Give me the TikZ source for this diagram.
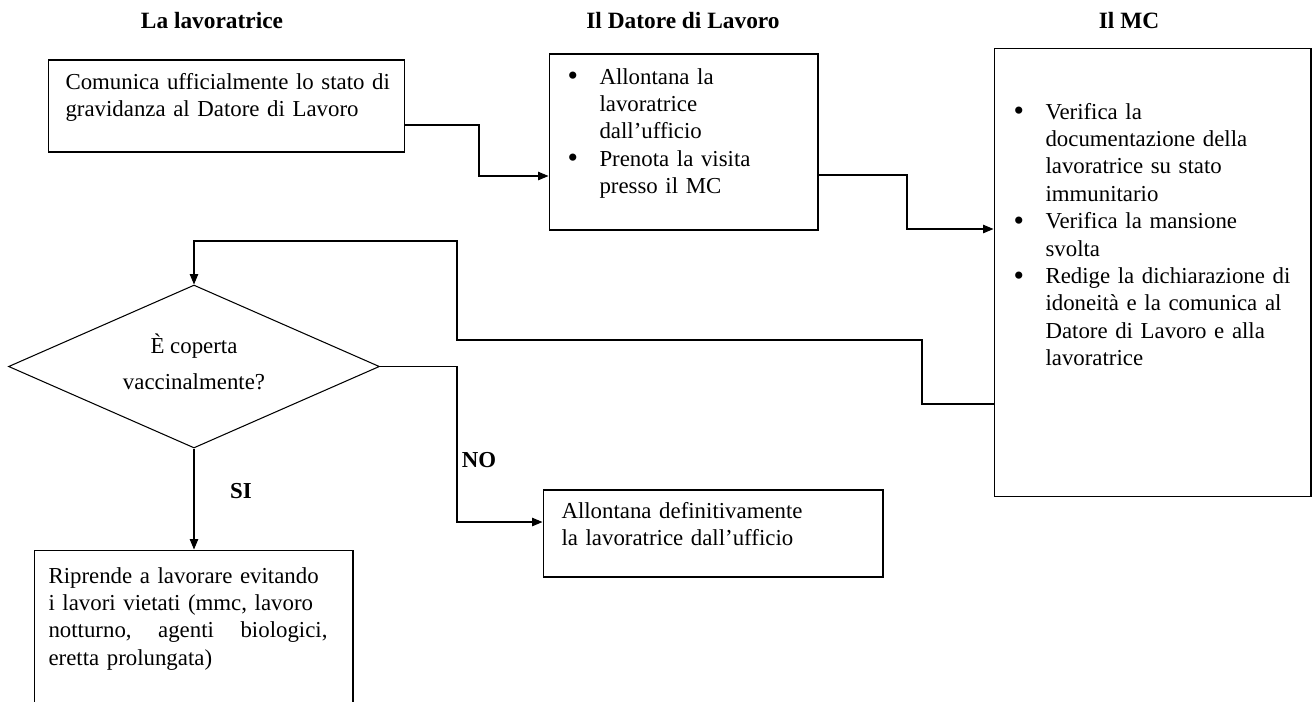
\documentclass[tikz,border=0pt]{standalone}
\usepackage{fontspec}
\setmainfont{Liberation Serif}
\usetikzlibrary{arrows.meta,shapes.geometric}

\newlength{\bulw}
\setlength{\bulw}{0.64cm}
\newcommand{\itm}{\makebox[\bulw][l]{\raisebox{-1pt}{\fontsize{17}{15}\selectfont\textbullet}}}
\newcommand{\ind}{\makebox[\bulw][l]{}}

\begin{document}
\begin{tikzpicture}[x=0.02cm, y=-0.02cm, line width=0.6pt,
  box/.style={draw, rectangle, inner sep=0pt},
  txt/.style={anchor=base west, inner sep=0pt, align=left, text width=#1,
    font=\fontsize{13}{15.6}\selectfont},
  head/.style={anchor=base, inner sep=0pt, font=\fontsize{13.3}{15.6}\selectfont\bfseries},
  lbl/.style={anchor=base, inner sep=0pt, font=\fontsize{13}{15.6}\selectfont\bfseries},
  arr/.style={-{Triangle[length=0.21cm,width=0.17cm]}}]
\useasboundingbox (0,0) rectangle (1314,701);

% intestazioni
\node[head] (hLav) at (212,28) {La lavoratrice};
\node[head] (hDat) at (683,28) {Il Datore di Lavoro};
\node[head] (hMC) at (1129,28) {Il MC};

% la lavoratrice
\node[box, minimum width=7.14cm, minimum height=1.84cm] (comunica) at (226.5,106) {};
\node[txt=7cm] (tComunica) at (65,89) {Comunica ufficialmente lo stato di\\gravidanza al Datore di Lavoro};

% il datore di lavoro
\node[box, minimum width=5.38cm, minimum height=3.52cm] (datore) at (683.5,142) {};
\node[txt=5cm] (tDatore) at (567,84) {\itm Allontana la\\\ind lavoratrice\\\ind dall’ufficio\\\itm Prenota la visita\\\ind presso il MC};

% il MC
\node[box, minimum width=6.34cm, minimum height=8.98cm] (mc) at (1152.5,272.5) {};
\node[txt=6cm] (tMC) at (1013,119) {\itm Verifica la\\\ind documentazione della\\\ind lavoratrice su stato\\\ind immunitario\\\itm Verifica la mansione\\\ind svolta\\\itm Redige la dichiarazione di\\\ind idoneità e la comunica al\\\ind Datore di Lavoro e alla\\\ind lavoratrice};

% decisione
\node[draw, diamond, aspect=2.3, minimum width=7.42cm, minimum height=3.26cm, inner sep=0pt, align=center,
  font=\fontsize{13}{15.6}\selectfont] (coperta) at (194,366.5) {È coperta\\[5pt]vaccinalmente?\\[-10pt]};

\node[box, minimum width=6.8cm, minimum height=1.74cm] (allontana) at (713,533.5) {};
\node[txt=6.5cm] (tAllontana) at (561,518) {Allontana definitivamente\\la lavoratrice dall’ufficio};

\node[box, minimum width=6.38cm, minimum height=4.2cm] (riprende) at (193.5,655) {};
\node[txt=6cm] (tRiprende) at (48,583) {Riprende a lavorare evitando\\i lavori vietati (mmc, lavoro\\\makebox[5.58cm][s]{notturno,\hfill agenti\hfill biologici,}\\eretta prolungata)};

\node[lbl] (si) at (241,498) {SI};
\node[lbl] (no) at (479,467) {NO};

% collegamenti
\coordinate (g1) at (479,176);
\coordinate (g2) at (907,229);
\coordinate (g3) at (922,340);
\coordinate (g4) at (457,241);
\coordinate (g5) at (457,522);
\draw[arr] ([yshift=-0.38cm]comunica.east) -| (g1) -- (g1 -| datore.west);
\draw[arr] ([yshift=-0.66cm]datore.east) -| (g2) -- (g2 -| mc.west);
\draw[arr] ([yshift=-2.63cm]mc.west) -| (g3) -| (g4) -| (coperta.north);
\draw[arr] (coperta.east) -| (g5) -- (g5 -| allontana.west);
\draw[arr] (coperta.south) -- (coperta.south |- riprende.north);
\end{tikzpicture}
\end{document}
